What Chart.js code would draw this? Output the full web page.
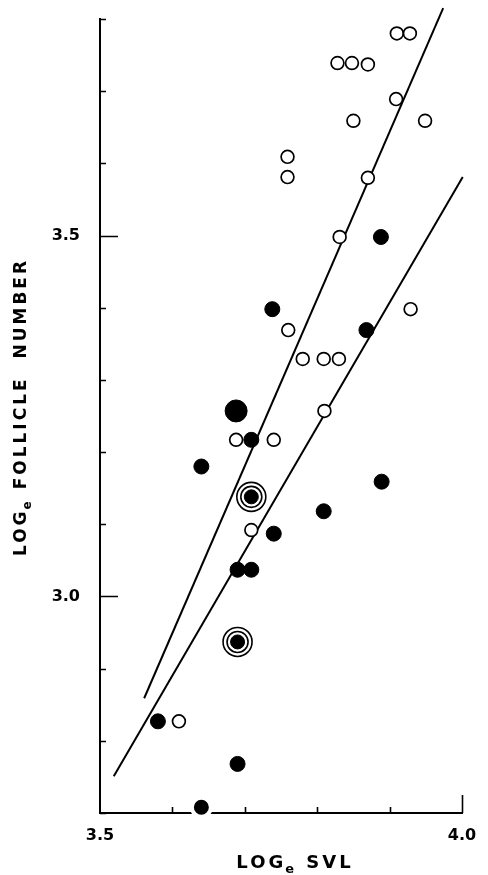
<!DOCTYPE html>
<html>
<head>
<meta charset="utf-8">
<script src="https://cdn.jsdelivr.net/npm/chart.js@4.4.1/dist/chart.umd.min.js"></script>
<style>
  html, body { margin: 0; padding: 0; background: #fff; }
  #wrap { width: 488px; height: 875px; }
</style>
</head>
<body>
<div id="wrap"><canvas id="follicles"></canvas></div>
<script>
// values (natural logs)
const openSvl       = [3.910, 3.928, 3.828, 3.848, 3.870, 3.909, 3.850, 3.949, 3.759, 3.759, 3.870,
                       3.831, 3.929, 3.760, 3.780, 3.809, 3.830, 3.810, 3.688, 3.740, 3.709, 3.609];
const openFollicles = [3.780, 3.780, 3.739, 3.739, 3.737, 3.689, 3.659, 3.659, 3.609, 3.581, 3.580,
                       3.498, 3.398, 3.369, 3.329, 3.329, 3.329, 3.257, 3.217, 3.217, 3.092, 2.827];

const filledSvl       = [3.888, 3.738, 3.868, 3.709, 3.640, 3.889, 3.809, 3.740, 3.690, 3.709, 3.580, 3.690, 3.640];
const filledFollicles = [3.498, 3.398, 3.369, 3.217, 3.180, 3.159, 3.118, 3.087, 3.037, 3.037, 2.827, 2.768, 2.708];

// large filled dot
const bigSvl       = [3.688];
const bigFollicles = [3.257];

// filled dots with two rings round them
const ringSvl       = [3.709, 3.690];
const ringFollicles = [3.138, 2.937];

// regression lines (end points)
const upperLineSvl       = [3.561, 3.974];
const upperLineFollicles = [2.859, 3.815];
const lowerLineSvl       = [3.519, 4.001];
const lowerLineFollicles = [2.751, 3.581];

const xTickLabels = ['3.5', '4.0'];
const yTickLabels = ['3.0', '3.5'];

const FONT = '"DejaVu Sans", sans-serif';

function pts(xs, ys) {
  return xs.map((x, i) => ({x: x, y: ys[i]}));
}

// inward tick marks, drawn under the points
const frameTicks = {
  id: 'frameTicks',
  beforeDatasetsDraw(chart) {
    const {ctx, chartArea: a, scales: {x, y}} = chart;
    ctx.save();
    ctx.strokeStyle = '#000';
    ctx.lineWidth = 1.6;
    ctx.beginPath();
    y.ticks.forEach(t => {
      const py = Math.round(y.getPixelForValue(t.value)) + 0.5;
      const len = yTickLabels.includes(t.value.toFixed(1)) ? 18 : 6;
      ctx.moveTo(a.left, py);
      ctx.lineTo(a.left + len, py);
    });
    x.ticks.forEach(t => {
      if (t.value < 3.5001) return;
      const px = Math.round(x.getPixelForValue(t.value)) + 0.5;
      const len = t.value > 3.999 ? 18 : 6;
      ctx.moveTo(px, a.bottom);
      ctx.lineTo(px, a.bottom - len);
    });
    ctx.stroke();
    ctx.restore();
  }
};

// axis titles with the subscript e
function drawLogTitle(ctx, rest, size, cx, baseline) {
  ctx.font = 'bold ' + size + 'px ' + FONT;
  ctx.letterSpacing = '3px';
  const w1 = ctx.measureText('LOG').width;
  const w3 = ctx.measureText(rest).width;
  ctx.font = 'bold ' + Math.round(size * 0.72) + 'px ' + FONT;
  ctx.letterSpacing = '0px';
  const w2 = ctx.measureText('e').width + 2;
  let x0 = cx - (w1 + w2 + w3) / 2;
  ctx.textAlign = 'left';
  ctx.textBaseline = 'alphabetic';
  ctx.fillStyle = '#000';
  ctx.font = 'bold ' + size + 'px ' + FONT;
  ctx.letterSpacing = '3px';
  ctx.fillText('LOG', x0, baseline);
  ctx.font = 'bold ' + Math.round(size * 0.72) + 'px ' + FONT;
  ctx.letterSpacing = '0px';
  ctx.fillText('e', x0 + w1 - 1, baseline + 5);
  ctx.font = 'bold ' + size + 'px ' + FONT;
  ctx.letterSpacing = '3px';
  ctx.fillText(rest, x0 + w1 + w2, baseline);
}

const axisTitles = {
  id: 'axisTitles',
  afterDraw(chart) {
    const ctx = chart.ctx;
    ctx.save();
    drawLogTitle(ctx, ' SVL', 18, 295, 868);
    ctx.restore();
    ctx.save();
    ctx.translate(26, 407);
    ctx.rotate(-Math.PI / 2);
    drawLogTitle(ctx, ' FOLLICLE  NUMBER', 17, 0, 0);
    ctx.restore();
  }
};

const onAxis = c => c.raw && c.raw.y < 2.72;

const data = {
  datasets: [
    {
      label: 'ring centres',
      data: pts(ringSvl, ringFollicles),
      pointRadius: 7,
      pointBackgroundColor: '#000',
      pointBorderColor: '#000',
      pointBorderWidth: 1,
      order: 0
    },
    {
      label: 'inner rings',
      data: pts(ringSvl, ringFollicles),
      pointRadius: 10.5,
      pointBackgroundColor: '#fff',
      pointBorderColor: '#000',
      pointBorderWidth: 1.6,
      order: 1
    },
    {
      label: 'outer rings',
      data: pts(ringSvl, ringFollicles),
      pointRadius: 14.5,
      pointBackgroundColor: '#fff',
      pointBorderColor: '#000',
      pointBorderWidth: 1.6,
      order: 2
    },
    {
      label: 'large filled',
      data: pts(bigSvl, bigFollicles),
      pointRadius: 11,
      pointBackgroundColor: '#000',
      pointBorderColor: '#000',
      pointBorderWidth: 1,
      order: 3
    },
    {
      label: 'filled',
      data: pts(filledSvl, filledFollicles),
      pointRadius: c => onAxis(c) ? 9.5 : 7.5,
      pointBackgroundColor: '#000',
      pointBorderColor: c => onAxis(c) ? '#fff' : '#000',
      pointBorderWidth: c => onAxis(c) ? 4 : 1,
      clip: false,
      order: 4
    },
    {
      label: 'open',
      data: pts(openSvl, openFollicles),
      pointRadius: 6.4,
      pointBackgroundColor: '#fff',
      pointBorderColor: '#000',
      pointBorderWidth: 1.7,
      order: 5
    },
    {
      label: 'upper line',
      data: pts(upperLineSvl, upperLineFollicles),
      showLine: true,
      borderColor: '#000',
      borderWidth: 2,
      pointRadius: 0,
      clip: false,
      order: 6
    },
    {
      label: 'lower line',
      data: pts(lowerLineSvl, lowerLineFollicles),
      showLine: true,
      borderColor: '#000',
      borderWidth: 2,
      pointRadius: 0,
      clip: false,
      order: 7
    }
  ]
};

const config = {
  type: 'scatter',
  data: data,
  options: {
    responsive: true,
    maintainAspectRatio: false,
    animation: false,
    layout: { padding: { top: 19, right: 26, bottom: 0, left: 0 } },
    plugins: {
      legend: { display: false },
      tooltip: { enabled: false }
    },
    scales: {
      x: {
        type: 'linear',
        min: 3.5,
        max: 4.0,
        grid: { display: false, drawTicks: false },
        border: { display: true, color: '#000', width: 2 },
        ticks: {
          stepSize: 0.1,
          autoSkip: false,
          maxRotation: 0,
          padding: 13,
          color: '#000',
          font: { family: FONT, size: 16, weight: 'bold' },
          callback: v => xTickLabels.includes(v.toFixed(1)) ? v.toFixed(1) : ''
        },
        afterFit: s => { s.height = 62; s.paddingLeft = 0; s.paddingRight = 0; }
      },
      y: {
        type: 'linear',
        min: 2.7,
        max: 3.8,
        grid: { display: false, drawTicks: false },
        border: { display: true, color: '#000', width: 2 },
        ticks: {
          stepSize: 0.1,
          autoSkip: false,
          padding: 20,
          color: '#000',
          font: { family: FONT, size: 16, weight: 'bold' },
          callback: v => yTickLabels.includes(v.toFixed(1)) ? v.toFixed(1) : ''
        },
        afterFit: s => { s.width = 100; s.paddingTop = 0; s.paddingBottom = 0; }
      }
    }
  },
  plugins: [frameTicks, axisTitles]
};

const ctx = document.getElementById('follicles').getContext('2d');
const follicleChart = new Chart(ctx, config);
</script>
</body>
</html>
